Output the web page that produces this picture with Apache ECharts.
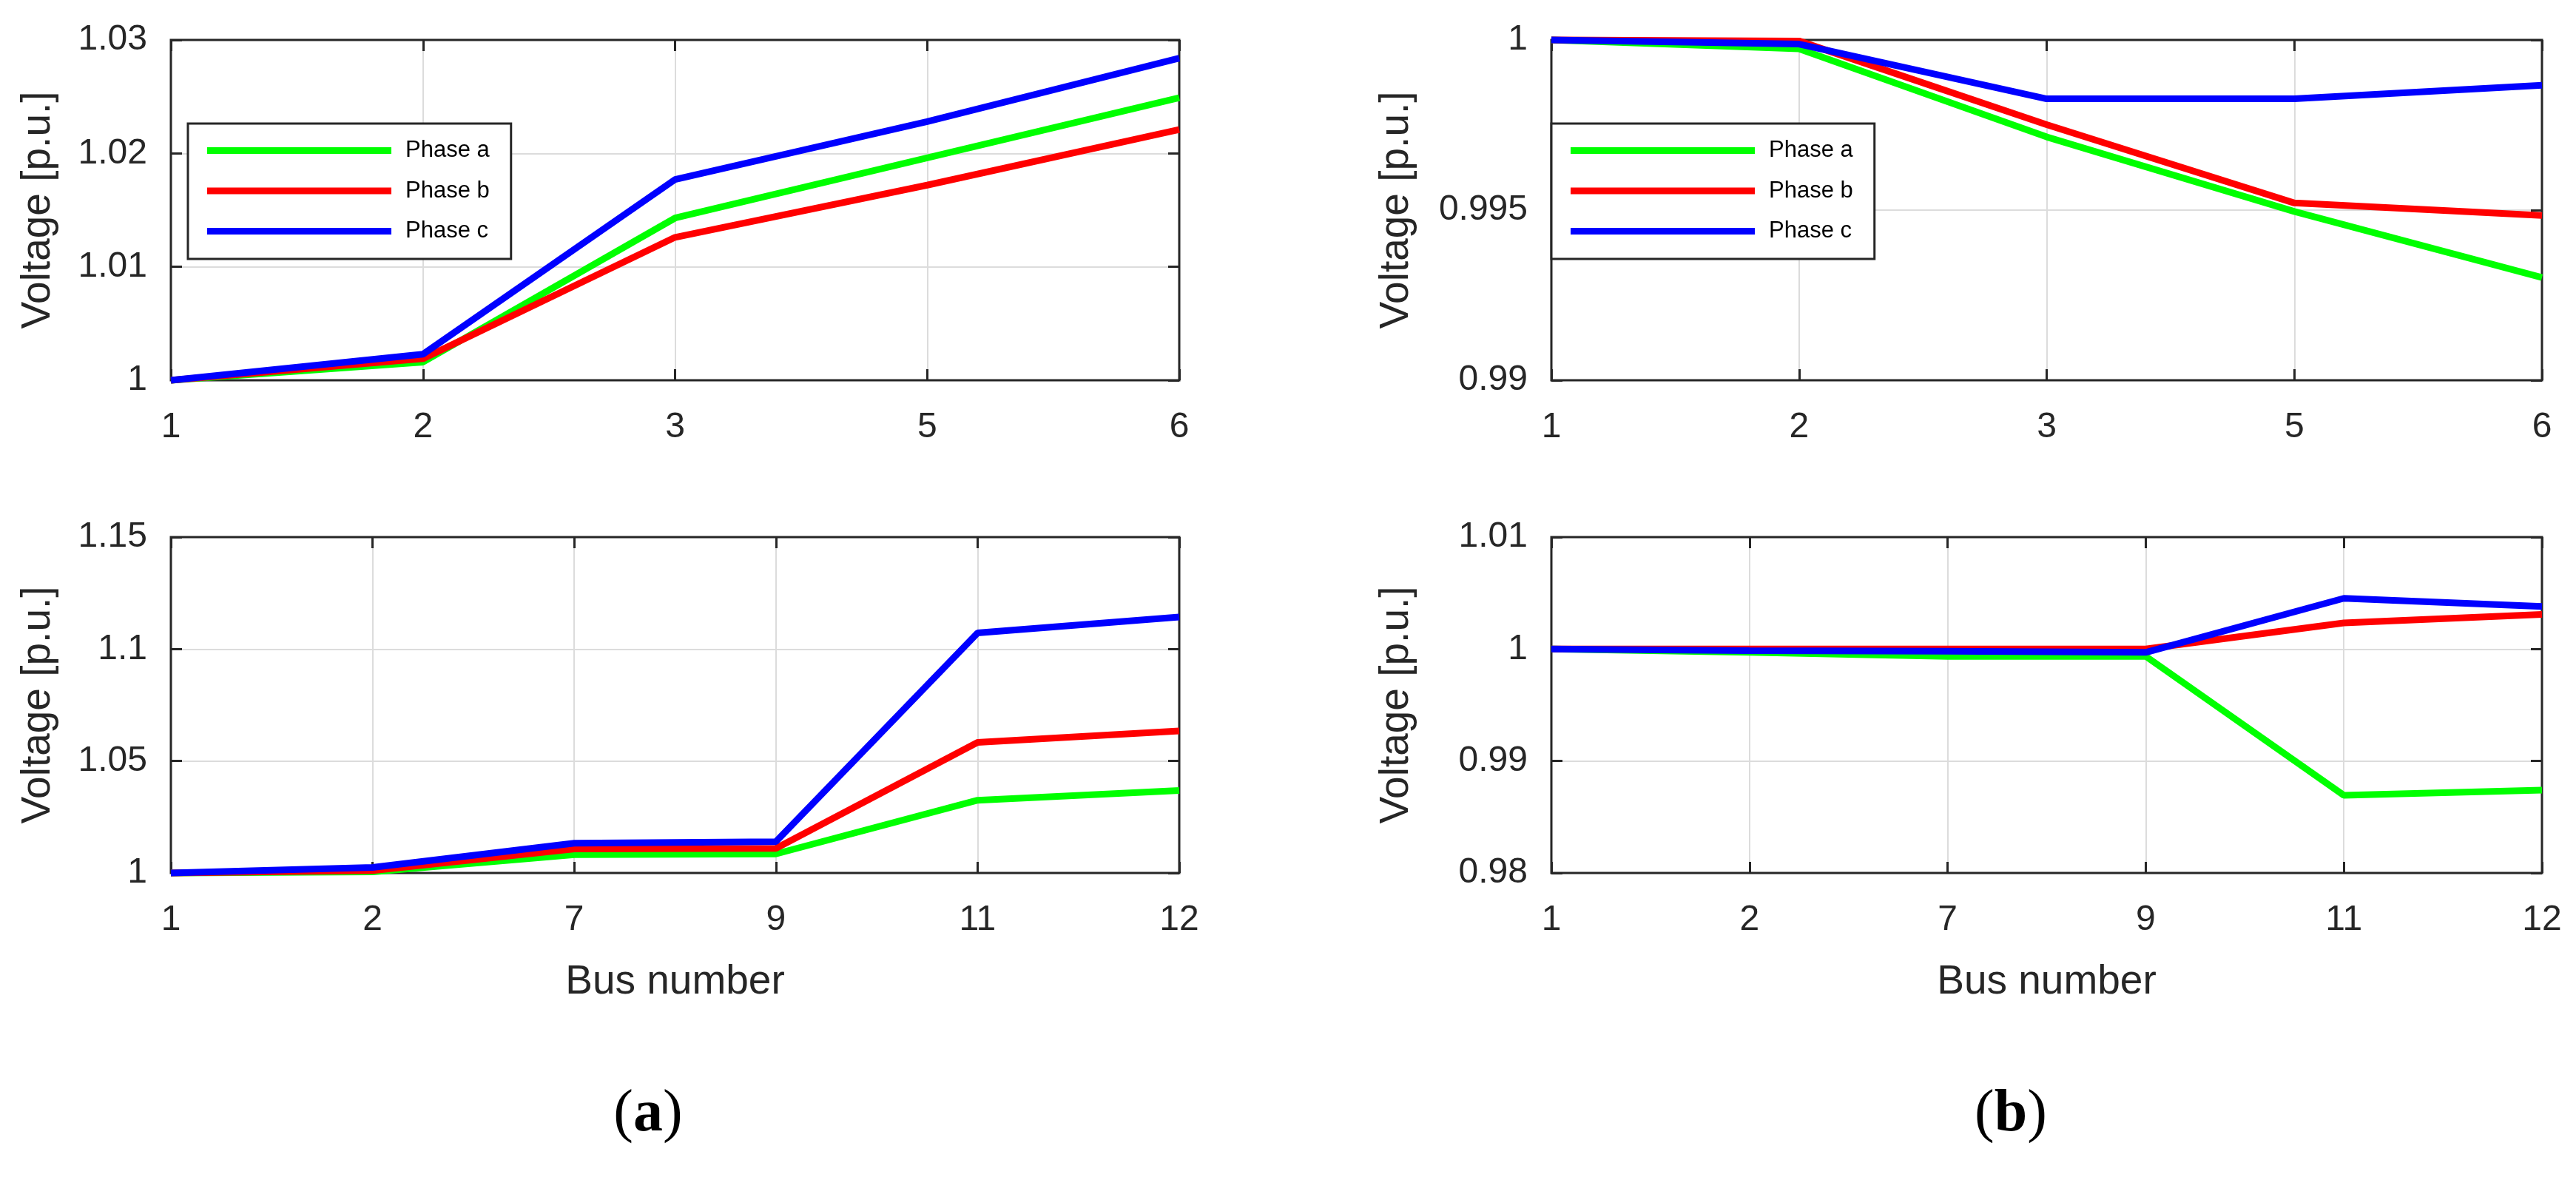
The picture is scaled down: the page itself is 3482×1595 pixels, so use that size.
<!DOCTYPE html>
<html>
<head>
<meta charset="utf-8">
<script src="https://cdn.jsdelivr.net/npm/echarts@6/dist/echarts.min.js"></script>
<style>
html,body{margin:0;padding:0;background:#fff;}
#chart{width:3482px;height:1595px;}
</style>
</head>
<body>
<div id="chart"></div>
<script>
// ---- data ----
const seriesNames = ['Phase a', 'Phase b', 'Phase c'];
const catsTop = ['1', '2', '3', '5', '6'];
const catsBottom = ['1', '2', '7', '9', '11', '12'];

// (a) top
const aTopPhaseA = [1.0000, 1.0016, 1.0143, 1.0196, 1.0249];
const aTopPhaseB = [1.0000, 1.0019, 1.0126, 1.0172, 1.0221];
const aTopPhaseC = [1.0000, 1.0023, 1.0177, 1.0228, 1.0284];
// (b) top
const bTopPhaseA = [1.0000, 0.99974, 0.99715, 0.99496, 0.99302];
const bTopPhaseB = [1.0000, 0.99997, 0.99751, 0.99521, 0.99484];
const bTopPhaseC = [1.0000, 0.99988, 0.99827, 0.99827, 0.99867];
// (a) bottom
const aBotPhaseA = [1.0000, 1.0005, 1.0082, 1.0085, 1.0325, 1.0368];
const aBotPhaseB = [1.0000, 1.0011, 1.0107, 1.0110, 1.0583, 1.0634];
const aBotPhaseC = [1.0000, 1.0025, 1.0133, 1.0140, 1.1072, 1.1143];
// (b) bottom
const bBotPhaseA = [1.0000, 0.9997, 0.99935, 0.99935, 0.98694, 0.9874];
const bBotPhaseB = [1.0000, 1.0000, 1.0000, 1.0000, 1.00234, 1.0031];
const bBotPhaseC = [1.0000, 0.99985, 0.9998, 0.9997, 1.00453, 1.0038];

// y-axis ranges [min, max, interval]
const yRangeATop = [1, 1.03, 0.01];
const yRangeBTop = [0.99, 1, 0.005];
const yRangeABot = [1, 1.15, 0.05];
const yRangeBBot = [0.98, 1.01, 0.01];

const xAxisTitle = 'Bus number';
const yAxisTitle = 'Voltage [p.u.]';
const captions = ['a', 'b'];

// ---- styles ----
const colors = ['#00ff00', '#ff0000', '#0000ff'];
const axisColor = '#262626';
const gridColor = '#dcdcdc';
const FONT = "'Liberation Sans', Arial, Helvetica, sans-serif";

const panels = [
  { cats: catsTop, data: [aTopPhaseA, aTopPhaseB, aTopPhaseC], range: yRangeATop,
    grid: { left: 231, top: 54, width: 1363, height: 460 }, yGap: 152, xName: false },
  { cats: catsTop, data: [bTopPhaseA, bTopPhaseB, bTopPhaseC], range: yRangeBTop,
    grid: { left: 2097, top: 54, width: 1339, height: 460 }, yGap: 182, xName: false },
  { cats: catsBottom, data: [aBotPhaseA, aBotPhaseB, aBotPhaseC], range: yRangeABot,
    grid: { left: 231, top: 726, width: 1363, height: 454 }, yGap: 152, xName: true },
  { cats: catsBottom, data: [bBotPhaseA, bBotPhaseB, bBotPhaseC], range: yRangeBBot,
    grid: { left: 2097, top: 726, width: 1339, height: 454 }, yGap: 182, xName: true }
];

const grid = [], xAxis = [], yAxis = [], series = [];
const tick = { show: true, inside: true, length: 15, lineStyle: { color: axisColor, width: 3 } };

panels.forEach((p, i) => {
  grid.push(Object.assign({ show: true, z: 1, backgroundColor: 'transparent',
    borderColor: axisColor, borderWidth: 3 }, p.grid));
  // bottom x axis
  xAxis.push({
    type: 'category', gridIndex: i, data: p.cats, boundaryGap: false, position: 'bottom',
    axisLine: { show: false }, axisTick: Object.assign({ interval: 0 }, tick),
    axisLabel: { interval: 0, margin: 40, fontSize: 48, fontFamily: FONT, color: axisColor },
    splitLine: { show: true, interval: 0, lineStyle: { color: gridColor, width: 2 } },
    name: p.xName ? xAxisTitle : '', nameLocation: 'middle', nameGap: 120,
    nameTextStyle: { fontSize: 55, fontFamily: FONT, color: axisColor }
  });
  // top x axis (ticks only)
  xAxis.push({
    type: 'category', gridIndex: i, data: p.cats, boundaryGap: false, position: 'top',
    axisLine: { show: false }, axisTick: Object.assign({ interval: 0 }, tick),
    axisLabel: { show: false }, splitLine: { show: false }
  });
  // left y axis
  yAxis.push({
    type: 'value', gridIndex: i, min: p.range[0], max: p.range[1], interval: p.range[2],
    position: 'left', axisLine: { show: false }, axisTick: tick,
    axisLabel: { margin: 32, fontSize: 48, fontFamily: FONT, color: axisColor },
    splitLine: { show: true, lineStyle: { color: gridColor, width: 2 } },
    name: yAxisTitle, nameLocation: 'middle', nameGap: p.yGap,
    nameTextStyle: { fontSize: 55, fontFamily: FONT, color: axisColor }
  });
  // right y axis (ticks only)
  yAxis.push({
    type: 'value', gridIndex: i, min: p.range[0], max: p.range[1], interval: p.range[2],
    position: 'right', axisLine: { show: false }, axisTick: tick,
    axisLabel: { show: false }, splitLine: { show: false }
  });
  p.data.forEach((vals, k) => {
    series.push({
      name: seriesNames[k], type: 'line', xAxisIndex: 2 * i, yAxisIndex: 2 * i,
      data: vals, showSymbol: false, symbol: 'none', clip: false, z: 2 + k,
      lineStyle: { color: colors[k], width: 9 }, itemStyle: { color: colors[k] },
      emphasis: { disabled: true }, animation: false
    });
  });
});

function legendAt(left, top) {
  return {
    data: seriesNames, orient: 'vertical', left: left, top: top,
    backgroundColor: '#fff', borderColor: axisColor, borderWidth: 3,
    padding: [21, 29, 22, 26], itemWidth: 249, itemHeight: 9, itemGap: 23.5,
    icon: 'rect', selectedMode: false,
    textStyle: { fontSize: 31, fontFamily: FONT, color: '#000',
      lineHeight: 30, padding: [0, 0, 0, 14] }
  };
}

const captionStyle = (txt) => ({
  text: '{p|(}{b|' + txt + '}{p|)}',
  rich: {
    p: { fontFamily: "'Liberation Serif', 'Times New Roman', serif", fontSize: 80, fill: '#000' },
    b: { fontFamily: "'Liberation Serif', 'Times New Roman', serif", fontSize: 80, fontWeight: 'bold', fill: '#000' }
  },
  align: 'center', verticalAlign: 'middle'
});

const option = {
  backgroundColor: '#fff',
  animation: false,
  grid: grid, xAxis: xAxis, yAxis: yAxis, series: series,
  legend: [legendAt(254, 167), legendAt(2097, 167)],
  graphic: [
    { type: 'text', x: 876, y: 1507, style: captionStyle(captions[0]) },
    { type: 'text', x: 2718, y: 1507, style: captionStyle(captions[1]) }
  ]
};

const chart = echarts.init(document.getElementById('chart'), null, { renderer: 'canvas' });
chart.setOption(option);
</script>
</body>
</html>
